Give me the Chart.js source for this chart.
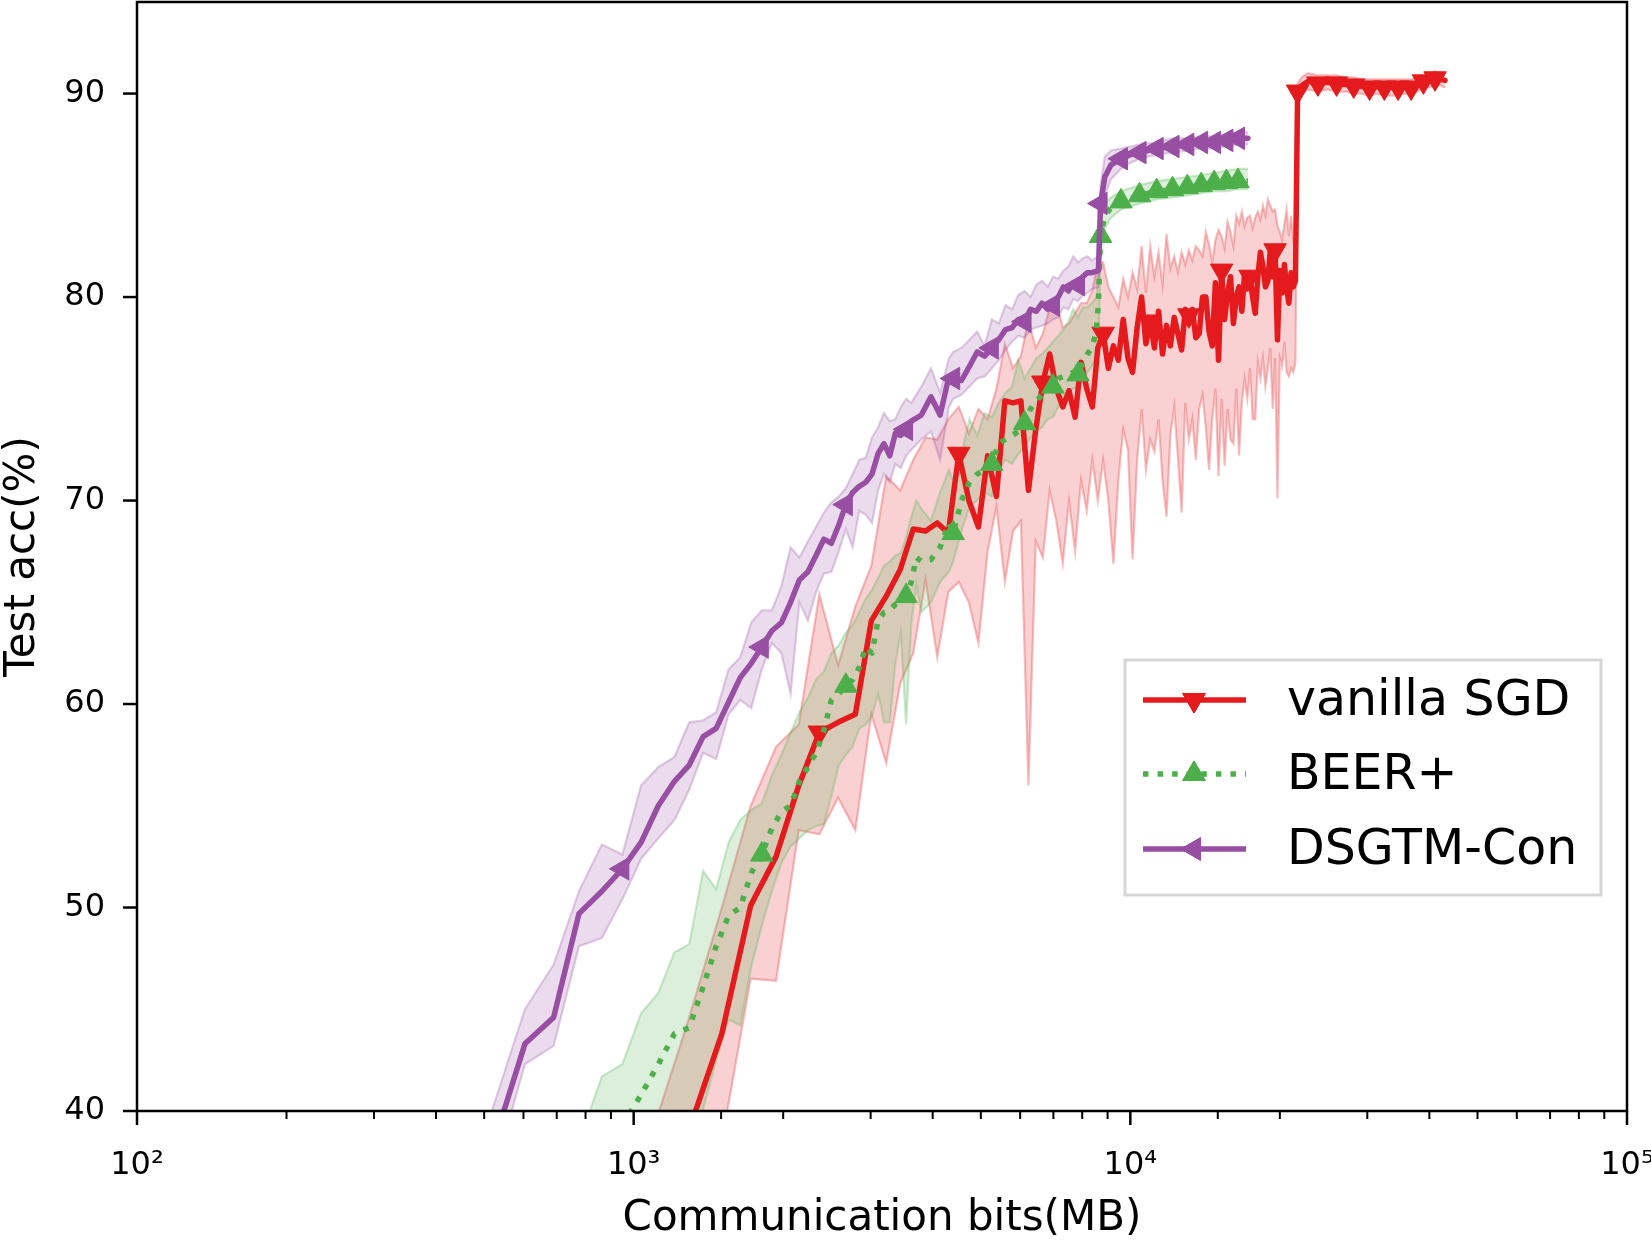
<!DOCTYPE html>
<html>
<head>
<meta charset="utf-8">
<title>Test acc vs Communication bits</title>
<script src="https://cdn.jsdelivr.net/npm/chart.js"></script>
<style>
  html, body { margin: 0; padding: 0; background: #fff; }
  #wrap { width: 1651px; height: 1240px; }
</style>
</head>
<body>
<div id="wrap"><canvas id="chart" width="1651" height="1240"></canvas></div>
<script>
// ---- data (x in MB, y in %) ----
const xTickValues = [100, 1000, 10000, 100000];
const xTickLabels = ['10\u00b2', '10\u00b3', '10\u2074', '10\u2075'];
const yTickValues = [40, 50, 60, 70, 80, 90];
const yTickLabels = ['40', '50', '60', '70', '80', '90'];
const seriesNames = ['vanilla SGD', 'BEER+', 'DSGTM-Con'];

// vanilla SGD
const sgdMB = [1075, 1290, 1505, 1720, 1935, 2150, 2365, 2580, 2795, 3010,
  3225, 3440, 3655, 3870, 4085, 4300, 4515, 4730, 4945, 5160,
  5375, 5590, 5805, 6020, 6235, 6450, 6665, 6880, 7095, 7310,
  7525, 7740, 7955, 8170, 8385, 8600,
  8815, 9030, 9245, 9460, 9675, 9890, 10105, 10320, 10535, 10750,
  10965, 11180, 11395, 11610, 11825, 12040, 12255, 12470, 12685, 12900,
  13115, 13330, 13545, 13760, 13975, 14190, 14405, 14620, 14835, 15050,
  15265, 15480, 15695, 15910, 16125, 16340, 16555, 16770, 16985, 17200,
  17415, 17630, 17845, 18060, 18275, 18490, 18705, 18920, 19135, 19350,
  19565, 19780, 19995, 20210, 20425, 20640, 20855, 21070, 21285, 21500,
  21715, 22145, 22790, 23865, 24940, 26015, 27090, 28165, 29240, 30315,
  31390, 32465, 33540, 34615, 35690, 36765, 37840, 38915, 39990, 41065, 42140, 43000];
const sgdAcc = [34.0, 39.0, 43.8, 50.1, 52.5, 56.0, 58.6, 59.1, 59.5, 64.1,
  65.3, 66.6, 68.6, 68.5, 68.9, 68.4, 72.3, 70.0, 68.7, 72.2,
  70.2, 74.9, 74.8, 74.9, 70.5, 73.5, 75.8, 77.2, 75.5, 74.6,
  75.4, 74.1, 76.8, 75.5, 74.6, 77.5,
  78.2, 76.5, 77.6, 76.9, 78.9, 77.0, 76.3, 78.5, 80.0, 77.7,
  78.8, 77.5, 79.3, 77.2, 78.6, 77.6, 79.0, 78.2, 77.4, 79.4,
  79.1, 79.4, 78.0, 78.2, 80.0, 80.0, 78.3, 77.6, 80.7, 76.9,
  81.3, 78.9, 80.2, 81.0, 78.7, 80.0, 80.5, 79.3, 81.2, 80.4,
  81.0, 80.0, 79.2, 81.0, 82.2, 81.5, 80.5, 80.8, 82.3, 81.0,
  82.3, 77.9, 81.3, 80.2, 81.6, 80.4, 79.7, 81.2, 80.5, 80.8,
  90.1, 90.4, 90.6, 90.5, 90.55, 90.5, 90.45, 90.4, 90.35, 90.3,
  90.35, 90.3, 90.3, 90.3, 90.35, 90.3, 90.45, 90.6, 90.65, 90.75, 90.7, 90.65];
const sgdLow = [30.0, 35.0, 38.5, 46.5, 46.4, 53.8, 53.6, 55.4, 53.8, 59.5,
  57.1, 61.0, 62.5, 66.1, 62.3, 65.5, 66.0, 65.0, 63.0, 67.5,
  69.7, 66.0, 68.5, 69.0, 56.0, 68.0, 67.2, 70.5, 69.0, 66.9,
  70.0, 67.5, 71.0, 69.5, 72.0, 70.0,
  72.0, 70.0, 66.9, 71.0, 73.5, 72.5, 67.1, 72.0, 74.5, 71.5,
  73.0, 72.4, 74.0, 71.0, 69.2, 73.2, 74.6, 72.1, 69.4, 74.8,
  73.0, 74.0, 72.0, 74.5, 75.2, 73.6, 71.5, 74.0, 75.5, 71.2,
  75.0, 71.7, 74.5, 73.0, 72.8, 75.5, 72.2, 74.8, 76.0, 75.0,
  76.5, 74.0, 74.0, 76.8, 76.0, 77.0, 75.6, 76.5, 77.5, 74.5,
  77.0, 70.1, 77.0, 76.6, 77.8, 76.3, 76.1, 76.5, 76.3, 76.8,
  89.7, 90.0, 90.2, 90.1, 90.2, 90.1, 90.1, 90.0, 90.0, 89.9,
  90.0, 89.9, 89.9, 89.9, 90.0, 89.9, 90.1, 90.3, 90.3, 90.4, 90.4, 90.3];
const sgdHigh = [38.5, 44.5, 50.0, 55.0, 57.9, 59.0, 65.4, 61.9, 64.8, 66.8,
  71.2, 70.5, 72.0, 73.1, 73.0, 74.0, 74.6, 73.3, 74.5, 74.0,
  75.5, 77.7, 76.5, 77.1, 78.9, 77.5, 78.2, 79.5, 79.7, 78.5,
  78.7, 79.2, 79.7, 79.7, 80.3, 81.7,
  81.7, 80.5, 80.0, 79.5, 80.9, 80.0, 81.2, 80.4, 82.5, 80.2,
  82.5, 81.0, 82.2, 80.6, 83.1, 81.4, 82.0, 81.2, 82.2, 81.6,
  82.3, 81.8, 82.5, 82.3, 82.0, 83.2, 82.6, 81.7, 82.8, 83.3,
  83.0, 82.4, 83.7, 83.2, 82.5, 84.0, 83.6, 84.2, 83.5, 83.9,
  84.0, 83.4, 83.9, 84.2, 83.8, 84.5, 84.0, 84.8, 84.5, 84.2,
  84.3, 83.5, 83.2, 82.8, 83.6, 84.3, 83.0, 84.0, 82.8, 83.3,
  90.5, 90.8, 91.0, 90.9, 90.9, 90.9, 90.8, 90.8, 90.7, 90.7,
  90.7, 90.7, 90.7, 90.7, 90.7, 90.7, 90.8, 90.9, 91.0, 91.1, 91.0, 91.0];
const sgdMarkMB = [2365, 4515, 6665, 8815, 10965, 13115, 15265, 17415, 19565, 21715,
  23865, 26015, 28165, 30315, 32465, 34615, 36765, 38915, 41065];

// BEER+
const beerMB = [776, 863, 949, 1035, 1121, 1208, 1294, 1380, 1466, 1553,
  1639, 1725, 1811, 1898, 1984, 2070, 2156, 2243, 2329, 2415,
  2501, 2588, 2674, 2760, 2846, 2933, 3019, 3105, 3191, 3278,
  3364, 3450, 3536, 3623, 3709, 3795,
  3968, 4140, 4313, 4399, 4571, 4744, 4916, 5089, 5261, 5434,
  5606, 5779, 5951, 6124, 6296, 6469, 6641, 6814, 6986, 7159,
  7331, 7504, 7676, 7849, 8021, 8194, 8366, 8539, 8625,
  8711, 8884, 9143, 9574, 10436, 11299, 12161, 13024, 13886, 14749, 15611, 16474, 17250];
const beerAcc = [35.5, 37.8, 39.3, 40.8, 42.3, 43.8, 44.1, 46.1, 48.1, 49.6,
  50.0, 51.7, 52.6, 53.9, 54.7, 55.0, 56.2, 56.9, 57.6, 58.7,
  60.2, 60.5, 60.9, 61.2, 61.8, 62.8, 62.5, 64.1, 64.5, 64.6,
  64.9, 65.1, 65.3, 66.0, 67.2, 67.0,
  67.1, 67.7, 68.9, 68.4, 70.0, 70.9, 71.3, 71.5, 71.8, 72.8,
  73.0, 73.2, 73.4, 73.8, 74.5, 74.9, 75.2, 75.3, 75.6, 76.0,
  76.1, 76.2, 76.3, 76.2, 76.8, 77.2, 77.5, 78.3, 79.7,
  83.0, 84.0, 84.4, 84.7, 85.0, 85.2, 85.3, 85.4, 85.5, 85.6, 85.65, 85.7, 85.7];
const beerLow = [32.0, 34.5, 36.0, 37.2, 36.5, 37.8, 38.9, 40.1, 42.5, 44.5,
  44.2, 47.1, 49.1, 50.8, 52.2, 53.0, 53.4, 53.8, 54.0, 54.1,
  55.5, 57.0, 57.5, 57.9, 58.8, 59.0, 59.4, 60.5, 59.1, 59.1,
  62.0, 63.5, 59.0, 64.0, 65.8, 64.5,
  65.0, 66.0, 66.5, 67.0, 68.5, 69.7, 70.0, 70.4, 70.2, 71.5,
  72.0, 71.8, 72.3, 72.6, 73.1, 73.4, 73.6, 74.0, 74.1, 74.6,
  75.0, 75.3, 75.5, 75.6, 76.0, 76.3, 76.6, 77.0, 77.5,
  82.0, 83.4, 83.9, 84.3, 84.6, 84.8, 84.9, 85.0, 85.1, 85.2, 85.2, 85.3, 85.3];
const beerHigh = [38.5, 41.7, 42.3, 44.8, 45.8, 47.8, 48.2, 51.8, 50.9, 53.2,
  54.3, 54.8, 55.1, 56.5, 57.5, 58.6, 59.6, 60.3, 61.2, 61.6,
  62.5, 62.9, 63.5, 63.9, 64.5, 65.2, 65.6, 66.2, 66.8, 67.0,
  67.3, 67.4, 68.2, 69.2, 70.0, 69.6,
  69.0, 70.4, 71.5, 71.0, 72.3, 74.0, 73.2, 74.3, 74.1, 74.8,
  75.3, 75.6, 76.9, 76.0, 76.5, 77.0, 77.2, 77.5, 77.8, 78.1,
  78.4, 78.8, 79.4, 79.0, 79.5, 79.5, 79.7, 80.0, 81.0,
  83.8, 84.6, 84.9, 85.2, 85.5, 85.7, 85.8, 85.9, 86.0, 86.1, 86.2, 86.3, 86.3];
const beerMarkMB = [1811, 2674, 3536, 4399, 5261, 6124, 6986, 7849, 8711,
  9574, 10436, 11299, 12161, 13024, 13886, 14749, 15611, 16474];

// DSGTM-Con
const dsgtmMB = [518, 604, 690, 776, 863, 949, 1035, 1121, 1208, 1294,
  1380, 1466, 1553, 1639, 1725, 1811, 1898, 1984, 2070, 2156,
  2243, 2329, 2415, 2501, 2588, 2674, 2760, 2846, 2933, 3019,
  3105, 3191, 3278, 3364, 3450, 3536, 3623,
  3795, 3968, 4140, 4313, 4399, 4571, 4744, 4916, 5089, 5261,
  5434, 5606, 5779, 5951, 6124, 6296, 6469, 6641, 6814, 6986,
  7159, 7331, 7504, 7676, 7849, 8021, 8194, 8366, 8625,
  8711, 8884, 9143, 9574, 10005, 10436, 11299, 12161, 13024, 13886, 14749, 15611, 16474, 17250];
const dsgtmAcc = [38.1, 43.3, 44.6, 49.7, 50.8, 51.9, 53.2, 55.0, 56.2, 57.0,
  58.4, 58.8, 60.1, 61.3, 62.0, 62.8, 63.6, 64.0, 65.0, 66.1,
  66.5, 67.3, 68.1, 67.9, 68.8, 69.8, 70.4, 70.7, 70.9, 71.3,
  72.3, 72.8, 72.2, 73.3, 73.2, 73.5, 73.9,
  74.2, 75.1, 74.2, 76.1, 76.0, 75.9, 76.6, 77.3, 77.1, 77.5,
  77.9, 78.4, 78.5, 78.9, 78.8, 79.4, 79.3, 79.7, 79.4, 79.6,
  80.0, 80.5, 80.3, 80.7, 80.6, 81.0, 81.2, 81.2, 81.3,
  84.6, 85.9, 86.5, 86.8, 87.0, 87.1, 87.3, 87.4, 87.5, 87.6, 87.6, 87.7, 87.8, 87.8];
const dsgtmLow = [36.5, 42.3, 43.2, 48.1, 48.5, 50.4, 52.4, 53.4, 54.3, 55.8,
  57.6, 57.3, 59.5, 60.2, 59.8, 61.7, 63.0, 62.5, 60.5, 65.0,
  64.1, 65.5, 66.4, 66.5, 67.5, 68.6, 67.7, 69.5, 69.3, 68.9,
  70.5, 71.3, 70.9, 71.8, 71.6, 72.2, 72.5,
  73.0, 73.4, 72.0, 74.6, 75.0, 75.2, 75.6, 76.0, 76.1, 76.5,
  76.9, 77.4, 77.8, 78.1, 78.0, 78.4, 78.5, 78.6, 78.7, 78.9,
  79.0, 79.5, 79.4, 79.9, 79.8, 80.1, 80.2, 80.4, 80.5,
  83.8, 85.0, 85.8, 86.3, 86.6, 86.8, 87.0, 87.1, 87.2, 87.3, 87.3, 87.4, 87.5, 87.5];
const dsgtmHigh = [40.0, 45.0, 47.2, 50.8, 53.1, 52.6, 56.0, 56.9, 57.4, 59.1,
  59.2, 59.6, 61.7, 62.3, 64.0, 64.6, 64.6, 65.8, 67.7, 67.2,
  68.0, 68.7, 69.4, 69.9, 70.2, 70.6, 71.3, 72.0, 72.1, 73.1,
  73.6, 74.3, 73.9, 74.0, 74.6, 75.0, 74.8,
  75.6, 76.5, 75.3, 77.0, 77.3, 77.5, 77.9, 78.3, 77.6, 78.9,
  78.7, 79.6, 79.4, 80.1, 80.3, 80.0, 80.6, 80.8, 80.5, 81.0,
  80.9, 81.3, 81.5, 82.0, 81.7, 81.9, 82.0, 81.8, 82.0,
  85.5, 86.9, 87.2, 87.3, 87.4, 87.5, 87.6, 87.8, 87.8, 87.9, 87.9, 88.0, 88.1, 88.1];
const dsgtmMarkMB = [949, 1811, 2674, 3536, 4399, 5261, 6124, 6986, 7849, 8711,
  9574, 10436, 11299, 12161, 13024, 13886, 14749, 15611, 16474];

// ---- styling ----
const RED = '228, 26, 28';
const GREEN = '77, 175, 74';
const PURPLE = '152, 78, 163';
const LINE_W = 5.5;
const MARK_R = 13;
const FONT = '"DejaVu Sans", "Liberation Sans", sans-serif';

function pts(xs, ys) {
  return xs.map((x, i) => ({ x: x, y: ys[i] }));
}

function band(xs, lo, hi, rgb, order) {
  return [
    { data: pts(xs, lo), borderColor: 'rgba(' + rgb + ',0.28)', borderWidth: 2.2,
      pointRadius: 0, fill: false, order: order },
    { data: pts(xs, hi), borderColor: 'rgba(' + rgb + ',0.28)', borderWidth: 2.2,
      pointRadius: 0, fill: '-1', backgroundColor: 'rgba(' + rgb + ',0.2)', order: order }
  ];
}

function meanLine(label, xs, ys, marks, rgb, rot, dash, order) {
  const markSet = new Set(marks);
  return {
    label: label,
    data: pts(xs, ys),
    borderColor: 'rgb(' + rgb + ')',
    borderWidth: LINE_W,
    borderDash: dash,
    borderCapStyle: dash.length ? 'butt' : 'round',
    borderJoinStyle: 'round',
    fill: false,
    pointStyle: 'triangle',
    pointRotation: rot,
    pointBackgroundColor: 'rgb(' + rgb + ')',
    pointBorderColor: 'rgb(' + rgb + ')',
    pointBorderWidth: 1,
    pointRadius: (ctx) => (ctx.raw && markSet.has(ctx.raw.x)) ? MARK_R : 0,
    pointHoverRadius: 0,
    order: order
  };
}

const legendItems = [
  { label: seriesNames[0], rgb: RED, rot: 180, dash: [] },
  { label: seriesNames[1], rgb: GREEN, rot: 0, dash: [LINE_W, LINE_W * 1.65] },
  { label: seriesNames[2], rgb: PURPLE, rot: -90, dash: [] }
];

// frame, tick marks and legend drawn on top of the plot
const framePlugin = {
  id: 'framePlugin',
  afterDraw(chart) {
    const { ctx, chartArea: a, scales } = chart;
    const xs = scales.x, ys = scales.y;
    ctx.save();
    ctx.strokeStyle = '#000';
    xs.ticks.forEach(t => {
      const px = xs.getPixelForValue(t.value);
      const major = xTickValues.includes(t.value);
      ctx.lineWidth = major ? 2.5 : 2;
      ctx.beginPath();
      ctx.moveTo(px, a.bottom);
      ctx.lineTo(px, a.bottom + (major ? 14 : 8));
      ctx.stroke();
    });
    ctx.lineWidth = 2.5;
    yTickValues.forEach(v => {
      const py = ys.getPixelForValue(v);
      ctx.beginPath();
      ctx.moveTo(a.left, py);
      ctx.lineTo(a.left - 14, py);
      ctx.stroke();
    });
    ctx.lineWidth = 2.5;
    ctx.strokeRect(a.left, a.top, a.right - a.left, a.bottom - a.top);

    // legend
    const bx = a.left + 988, by = a.top + 658, bw = 476, bh = 235;
    ctx.fillStyle = 'rgba(255,255,255,0.8)';
    ctx.fillRect(bx, by, bw, bh);
    ctx.strokeStyle = 'rgba(204,204,204,0.8)';
    ctx.lineWidth = 3;
    ctx.strokeRect(bx, by, bw, bh);
    const rowY = [40, 114, 189];
    legendItems.forEach((it, i) => {
      const cy = by + rowY[i];
      ctx.strokeStyle = 'rgb(' + it.rgb + ')';
      ctx.lineWidth = LINE_W;
      ctx.setLineDash(it.dash);
      ctx.lineCap = 'butt';
      ctx.beginPath();
      ctx.moveTo(bx + 18, cy);
      ctx.lineTo(bx + 121, cy);
      ctx.stroke();
      ctx.setLineDash([]);
      ctx.lineWidth = 1;
      Chart.helpers.drawPoint(ctx, {
        pointStyle: 'triangle', rotation: it.rot, radius: MARK_R, borderWidth: 1
      }, bx + 69, cy);
      ctx.fillStyle = 'rgb(' + it.rgb + ')';
      ctx.fill();
      ctx.stroke();
      ctx.fillStyle = '#000';
      ctx.font = '49px ' + FONT;
      ctx.textAlign = 'left';
      ctx.textBaseline = 'middle';
      ctx.fillText(it.label, bx + 162, cy + 2);
    });
    ctx.restore();
  }
};

const datasets = [
  ...band(sgdMB, sgdLow, sgdHigh, RED, 8),
  ...band(beerMB, beerLow, beerHigh, GREEN, 7),
  ...band(dsgtmMB, dsgtmLow, dsgtmHigh, PURPLE, 6),
  meanLine(seriesNames[0], sgdMB, sgdAcc, sgdMarkMB, RED, 180, [], 3),
  meanLine(seriesNames[1], beerMB, beerAcc, beerMarkMB, GREEN, 0, [LINE_W, LINE_W * 1.65], 2),
  meanLine(seriesNames[2], dsgtmMB, dsgtmAcc, dsgtmMarkMB, PURPLE, -90, [], 1)
];

new Chart(document.getElementById('chart'), {
  type: 'line',
  data: { datasets: datasets },
  options: {
    responsive: false,
    animation: false,
    devicePixelRatio: 1,
    layout: { padding: { top: 2, right: 24, left: 0, bottom: 0 } },
    elements: { line: { tension: 0 } },
    plugins: { legend: { display: false }, tooltip: { enabled: false } },
    scales: {
      x: {
        type: 'logarithmic',
        min: 100,
        max: 100000,
        grid: { display: false },
        border: { display: false },
        ticks: {
          autoSkip: false,
          maxRotation: 0,
          minRotation: 0,
          padding: 27,
          color: '#000',
          font: { family: FONT, size: 32 },
          callback: (v) => {
            const i = xTickValues.indexOf(v);
            return i >= 0 ? xTickLabels[i] : '';
          }
        },
        title: {
          display: true,
          text: 'Communication bits(MB)',
          color: '#000',
          font: { family: FONT, size: 42, lineHeight: 1 },
          padding: { top: 0, bottom: 0 }
        },
        afterFit: (s) => {
          s.height = 129;
          s.paddingLeft = 0; s.paddingRight = 0;
        }
      },
      y: {
        type: 'linear',
        min: 40,
        max: 94.5,
        grid: { display: false },
        border: { display: false },
        ticks: {
          stepSize: 10,
          includeBounds: false,
          padding: 24,
          color: '#000',
          font: { family: FONT, size: 32 },
          callback: (v) => {
            const i = yTickValues.indexOf(v);
            return i >= 0 ? yTickLabels[i] : '';
          }
        },
        title: {
          display: true,
          text: 'Test acc(%)',
          color: '#000',
          font: { family: FONT, size: 42, lineHeight: 1 },
          padding: { top: 2, bottom: 0 }
        },
        afterFit: (s) => {
          s.width = 137;
          s.paddingTop = 0; s.paddingBottom = 0;
        }
      }
    }
  },
  plugins: [framePlugin]
});
</script>
</body>
</html>
